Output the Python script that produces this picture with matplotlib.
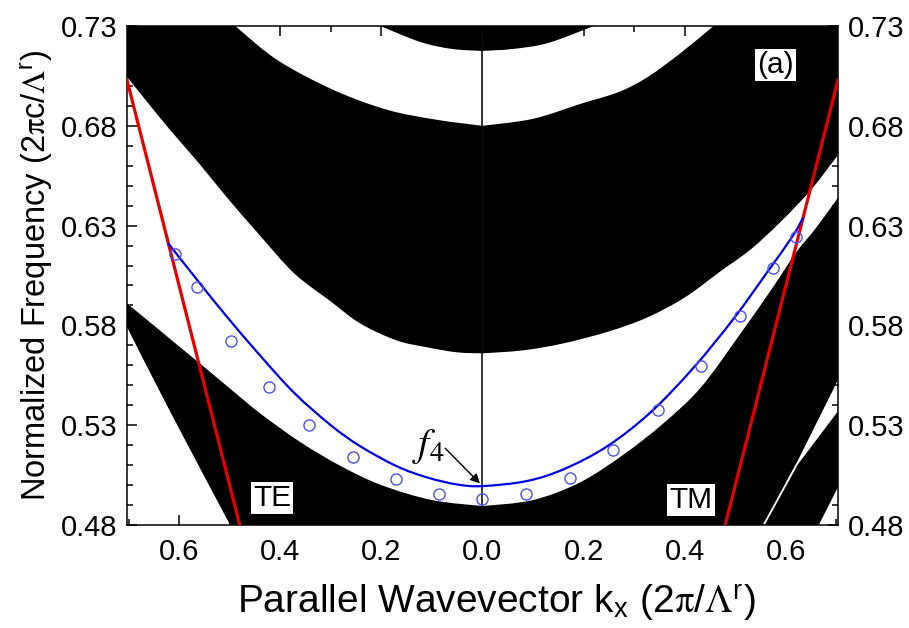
import matplotlib.pyplot as plt
from matplotlib.path import Path
from matplotlib.patches import PathPatch
from matplotlib.ticker import MultipleLocator, FixedLocator

plt.rcParams["font.family"] = ["Liberation Sans", "DejaVu Sans"]
plt.rcParams["mathtext.fontset"] = "stix"

# band edges: kx in 2pi/Lambda^r, frequency in 2pi c/Lambda^r
# TE side (kx < 0)
te_b_lower_k = [-0.703, -0.66, -0.618, -0.56, -0.505, -0.44, -0.372, -0.30, -0.242, -0.17, -0.109, -0.05, 0.0]
te_b_lower_w = [0.7045, 0.691, 0.678, 0.661, 0.644, 0.625, 0.606, 0.592, 0.581, 0.5725, 0.569, 0.5665, 0.566]
te_b_upper_k = [0.0, -0.09, -0.188, -0.295, -0.406, -0.489]
te_b_upper_w = [0.680, 0.683, 0.688, 0.698, 0.713, 0.730]
te_c_lower_k = [0.0, -0.06, -0.123, -0.202]
te_c_lower_w = [0.7175, 0.7185, 0.722, 0.730]
te_a_upper_k = [-0.703, -0.65, -0.60, -0.56, -0.50, -0.44, -0.36, -0.28, -0.20, -0.10, 0.0]
te_a_upper_w = [0.591, 0.580, 0.5695, 0.5612, 0.5485, 0.536, 0.5215, 0.5095, 0.500, 0.4925, 0.4895]
te_a_lower_k = [-0.703, -0.618, -0.499]
te_a_lower_w = [0.5792, 0.537, 0.480]

# TM side (kx > 0)
tm_b_lower_k = [0.0, 0.08, 0.16, 0.25, 0.326, 0.40, 0.47, 0.53, 0.59, 0.65, 0.703]
tm_b_lower_w = [0.566, 0.5675, 0.571, 0.577, 0.584, 0.594, 0.607, 0.618, 0.632, 0.648, 0.6654]
tm_b_upper_k = [0.0, 0.1, 0.194, 0.27, 0.327, 0.392, 0.457]
tm_b_upper_w = [0.680, 0.6835, 0.691, 0.697, 0.7045, 0.7165, 0.730]
tm_c_lower_k = [0.0, 0.06, 0.13, 0.22]
tm_c_lower_w = [0.7175, 0.7185, 0.7215, 0.730]
tm_a_upper_k = [0.0, 0.1, 0.194, 0.28, 0.358, 0.432, 0.509, 0.574, 0.62, 0.66, 0.703]
tm_a_upper_w = [0.4895, 0.4925, 0.5015, 0.5155, 0.531, 0.549, 0.5755, 0.599, 0.6165, 0.629, 0.644]
sliver_k = [0.554, 0.624, 0.703, 0.703, 0.624, 0.558]
sliver_w = [0.480, 0.5125, 0.5527, 0.537, 0.5105, 0.480]
corner_k = [0.665, 0.703, 0.703]
corner_w = [0.480, 0.499, 0.480]

# light lines
te_light_k = [-0.703, -0.48]
te_light_w = [0.703, 0.48]
tm_light_k = [0.48, 0.703]
tm_light_w = [0.48, 0.703]

# guided mode f4 (line) and simulated points (circles)
mode_k = [-0.622, -0.564, -0.505, -0.44, -0.372, -0.30, -0.242, -0.17, -0.109, -0.05, 0.0,
          0.087, 0.161, 0.247, 0.333, 0.418, 0.497, 0.564, 0.614, 0.634]
mode_w = [0.6213, 0.6027, 0.5842, 0.565, 0.5461, 0.530, 0.5195, 0.5095, 0.5038, 0.5003, 0.4995,
          0.502, 0.508, 0.5195, 0.5366, 0.559, 0.5835, 0.607, 0.625, 0.634]
sim_k = [-0.608, -0.564, -0.497, -0.422, -0.343, -0.257, -0.172, -0.087, 0.0,
         0.087, 0.174, 0.259, 0.347, 0.432, 0.509, 0.574, 0.620]
sim_w = [0.6158, 0.5992, 0.5722, 0.5491, 0.5301, 0.5141, 0.5030, 0.4955, 0.4930,
         0.4955, 0.5035, 0.5176, 0.5376, 0.5596, 0.5847, 0.6088, 0.6243]

xmin, xmax = -0.703, 0.703
ymin, ymax = 0.48, 0.73
xtick_pos = [-0.6, -0.4, -0.2, 0.0, 0.2, 0.4, 0.6]
xtick_lab = ["0.6", "0.4", "0.2", "0.0", "0.2", "0.4", "0.6"]
ytick_pos = [0.48, 0.53, 0.58, 0.63, 0.68, 0.73]


def shape(pieces, close=True):
    # each piece is (xs, ys); points inside a piece are joined by a smooth
    # Catmull-Rom curve, pieces are joined by straight lines
    verts, codes = [], []
    for xs, ys in pieces:
        pts = list(zip(xs, ys))
        verts.append(pts[0])
        codes.append(Path.MOVETO if not codes else Path.LINETO)
        for i in range(len(pts) - 1):
            p0 = pts[i - 1] if i > 0 else pts[i]
            p1, p2 = pts[i], pts[i + 1]
            p3 = pts[i + 2] if i + 2 < len(pts) else pts[i + 1]
            c1 = (p1[0] + (p2[0] - p0[0]) / 6, p1[1] + (p2[1] - p0[1]) / 6)
            c2 = (p2[0] - (p3[0] - p1[0]) / 6, p2[1] - (p3[1] - p1[1]) / 6)
            verts += [c1, c2, p2]
            codes += [Path.CURVE4] * 3
    if close:
        verts.append(verts[0])
        codes.append(Path.CLOSEPOLY)
    return Path(verts, codes)


def rev(xs, ys):
    return xs[::-1], ys[::-1]


fig = plt.figure(figsize=(9.09, 6.28), dpi=100)
ax = fig.add_axes([0.1397, 0.164, 0.7822, 0.7946])


def patch(path, color, z):
    ax.add_patch(PathPatch(path, facecolor=color, edgecolor="none", lw=0, zorder=z))


# black bands, white gaps painted on top
patch(shape([(te_b_lower_k, te_b_lower_w), ([0.0, xmin], [ymax, ymax])]), "k", 1)
patch(shape([(tm_b_lower_k, tm_b_lower_w), ([xmax, 0.0], [ymax, ymax])]), "k", 1)
patch(shape([(te_b_upper_k, te_b_upper_w), rev(te_c_lower_k, te_c_lower_w)]), "w", 1.1)
patch(shape([(tm_b_upper_k, tm_b_upper_w), rev(tm_c_lower_k, tm_c_lower_w)]), "w", 1.1)
patch(shape([(te_a_upper_k, te_a_upper_w), ([0.0], [ymin]), rev(te_a_lower_k, te_a_lower_w)]), "k", 1)
patch(shape([([0.0], [ymin]), (tm_a_upper_k, tm_a_upper_w), ([xmax], [ymin])]), "k", 1)
ax.fill(sliver_k, sliver_w, color="w", lw=0, zorder=1.1)
ax.fill(corner_k, corner_w, color="w", lw=0, zorder=1.1)

ax.axvline(0.0, color="k", lw=1.1, zorder=2)

ax.plot(te_light_k, te_light_w, color="#e60000", lw=2.3, zorder=3)
ax.plot(tm_light_k, tm_light_w, color="#e60000", lw=2.3, zorder=3)

ax.add_patch(PathPatch(shape([(mode_k, mode_w)], close=False), facecolor="none",
                       edgecolor="#0000e0", lw=1.6, zorder=4))
ax.plot(sim_k, sim_w, "o", mfc="none", mec="#5050dc", ms=8, mew=1.0, zorder=5)

box = dict(facecolor="white", edgecolor="none", pad=1.5)
ax.text(-0.416, 0.4935, "TE", ha="center", va="center", fontsize=21.5, bbox=box, zorder=6)
ax.text(0.412, 0.4925, "TM", ha="center", va="center", fontsize=21.5, bbox=box, zorder=6)
ax.text(0.58, 0.7105, "(a)", ha="center", va="center", fontsize=21.5, bbox=box, zorder=6)

ax.text(-0.107, 0.5195, r"$\mathit{f}_{\mathit{4}}$", ha="center", va="center", fontsize=29, zorder=6)
ax.annotate("", xy=(-0.005, 0.5008), xytext=(-0.074, 0.5185),
            arrowprops=dict(arrowstyle="-|>", color="k", lw=1.0, mutation_scale=14,
                            shrinkA=0, shrinkB=0), zorder=6)

ax.set_xlim(xmin, xmax)
ax.set_ylim(ymin, ymax)
ax.xaxis.set_major_locator(FixedLocator(xtick_pos))
ax.set_xticklabels(xtick_lab)
ax.xaxis.set_minor_locator(MultipleLocator(0.1))
ax.yaxis.set_major_locator(FixedLocator(ytick_pos))
ax.yaxis.set_minor_locator(MultipleLocator(0.01))
ax.tick_params(which="both", direction="in", top=True, right=True, labelright=True,
               labelsize=21, width=1.1)
ax.tick_params(axis="y", pad=7)
ax.tick_params(axis="x", pad=9)
ax.tick_params(which="major", length=7)
ax.tick_params(which="minor", length=4.5)
for s in ax.spines.values():
    s.set_linewidth(1.1)

ax.set_xlabel(r"Parallel Wavevector k$_\mathregular{x}$ (2$\mathrm{\pi}$/$\mathrm{\Lambda}^\mathregular{r}$)",
              fontsize=28, labelpad=6)
ax.xaxis.set_label_coords(0.52, -0.115)
ax.set_ylabel(r"Normalized Frequency (2$\mathrm{\pi}$c/$\mathrm{\Lambda}^\mathregular{r}$)",
              fontsize=23.5, labelpad=4)

fig.savefig("out.png", dpi=100)
